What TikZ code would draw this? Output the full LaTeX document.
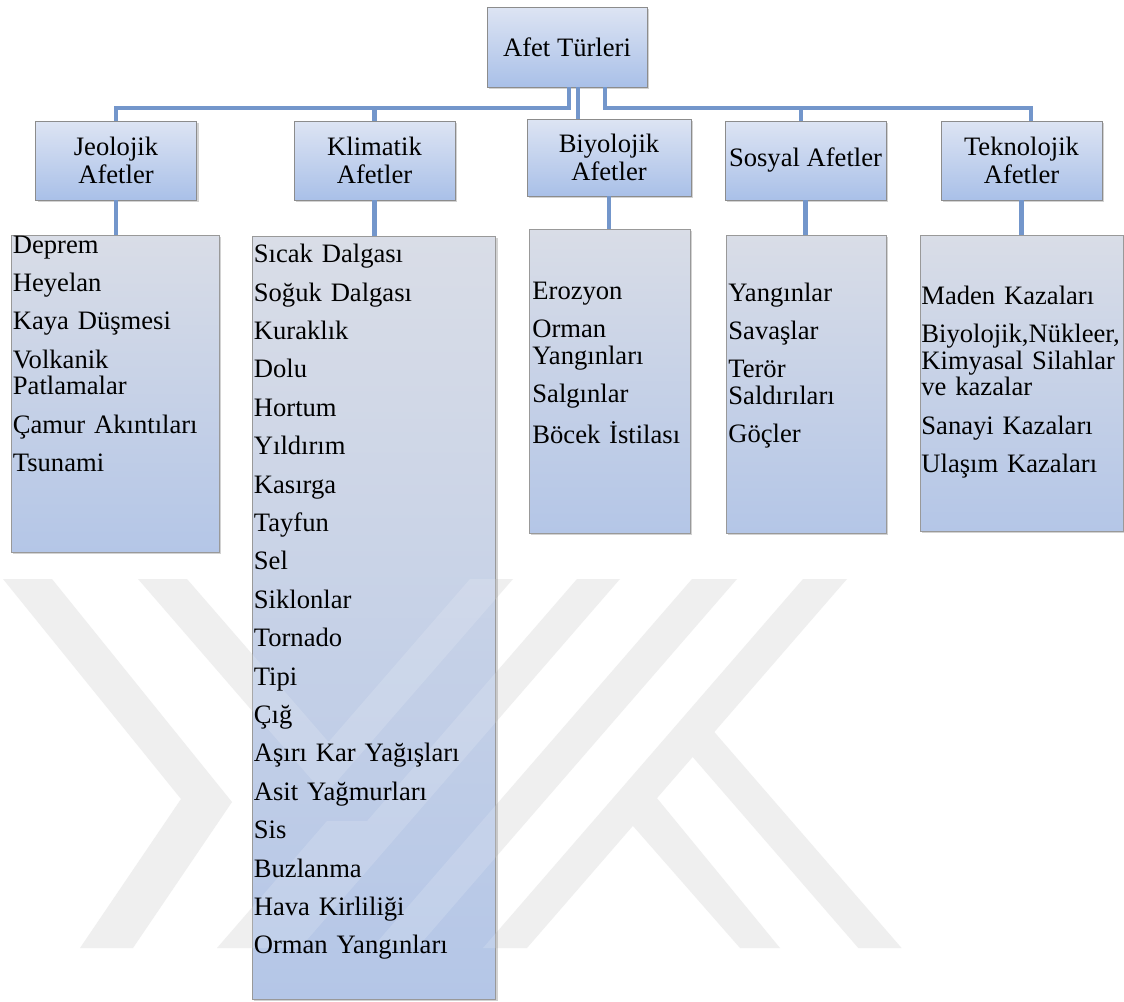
\documentclass[tikz,border=0pt]{standalone}
\usepackage{fontspec}
\setmainfont{Liberation Serif}
\usetikzlibrary{shadows}

\definecolor{linkblue}{HTML}{7396CB}
\definecolor{headtop}{HTML}{DDE4F3}
\definecolor{headbot}{HTML}{A9C0E8}
\definecolor{listtop}{HTML}{D9DDE7}
\definecolor{listbot}{HTML}{B4C6E7}
\definecolor{markgray}{HTML}{EFEFEF}

\newcommand{\itemgap}{5.85pt}
% watermark stripes
\newcommand{\yokmark}[1]{%
  \fill[#1] (3,579) -- (52,579) -- (232,802) -- (133,948) -- (80,948) -- (181,799) -- cycle
    (138,579) -- (187,579) -- (328.5,742) -- (470,579) -- (513,579) -- (325,795) -- cycle
    (327,821) -- (380,821) -- (270,948) -- (217,948) -- cycle
    (577,579) -- (620,579) -- (300,948) -- (257,948) -- cycle
    (692,579) -- (737,579) -- (417,948) -- (372,948) -- cycle
    (803,579) -- (847,579) -- (527,948) -- (483,948) -- cycle
    (703.9,720) -- (901.6,948) -- (858.3,948) -- (682.3,745) -- cycle
    (647,786) -- (780,948) -- (740,948) -- (622.5,814) -- cycle;}

\tikzset{
  headbox/.style={draw=black!45, top color=headtop, bottom color=headbot,
    drop shadow={shadow xshift=1.2pt, shadow yshift=-1.2pt, opacity=.35},
    align=center, inner sep=0pt, font=\fontsize{13.3}{14}\selectfont},
  listbox/.style={draw=black!40, top color=listtop, bottom color=listbot,
    drop shadow={shadow xshift=1.2pt, shadow yshift=-1.2pt, opacity=.35},
    inner sep=0pt},
  items/.style={anchor=base west, inner sep=0pt, text width=112pt, align=left},
  link/.style={draw=linkblue, line width=2.4pt},
}

\begin{document}
\begin{tikzpicture}[x=0.5pt, y=-0.5pt, font=\fontsize{13.3}{13.35}\selectfont]
\useasboundingbox (0,0) rectangle (1124,1001);
\fill[white] (0,0) rectangle (1124,1001);
\yokmark{markgray}

% top and second level
\node[headbox, minimum width=80pt, minimum height=40pt] (afet) at (567,47) {Afet Türleri};
\node[headbox, minimum width=80.5pt, minimum height=39.5pt] (jeo) at (116,160.5) {Jeolojik\\Afetler};
\node[headbox, minimum width=80.5pt, minimum height=39.5pt] (kli) at (374.5,160.5) {Klimatik\\Afetler};
\node[headbox, minimum width=82pt, minimum height=38.5pt] (bio) at (609,157.5) {Biyolojik\\Afetler};
\node[headbox, minimum width=80.5pt, minimum height=39.5pt] (sos) at (805.5,160.5) {Sosyal Afetler};
\node[headbox, minimum width=80.5pt, minimum height=39.5pt] (tek) at (1021.5,160.5) {Teknolojik\\Afetler};

% lists
\node[listbox, minimum width=104pt, minimum height=158.5pt] (jeoList) at (115,393.5) {};
\node[listbox, minimum width=121.75pt, minimum height=381.5pt] (kliList) at (373.75,617.5) {};
\node[listbox, minimum width=80.5pt, minimum height=152pt] (bioList) at (609.5,381) {};
\node[listbox, minimum width=80pt, minimum height=149pt] (sosList) at (806,384) {};
\node[listbox, minimum width=101.5pt, minimum height=148pt] (tekList) at (1021.5,383) {};

% watermark showing through the long list
\begin{scope}
  \clip (kliList.south west) rectangle (kliList.north east);
  \yokmark{white, opacity=.15}
\end{scope}

\node[items] (jeoItems) at (12.5,253) {Deprem\\[\itemgap]Heyelan\\[\itemgap]Kaya Düşmesi\\[\itemgap]Volkanik\\Patlamalar\\[\itemgap]Çamur Akıntıları\\[\itemgap]Tsunami};
\node[items] (kliItems) at (253.5,262.7) {Sıcak Dalgası\\[\itemgap]Soğuk Dalgası\\[\itemgap]Kuraklık\\[\itemgap]Dolu\\[\itemgap]Hortum\\[\itemgap]Yıldırım\\[\itemgap]Kasırga\\[\itemgap]Tayfun\\[\itemgap]Sel\\[\itemgap]Siklonlar\\[\itemgap]Tornado\\[\itemgap]Tipi\\[\itemgap]Çığ\\[\itemgap]Aşırı Kar Yağışları\\[\itemgap]Asit Yağmurları\\[\itemgap]Sis\\[\itemgap]Buzlanma\\[\itemgap]Hava Kirliliği\\[\itemgap]Orman Yangınları};
\node[items] (bioItems) at (532,299) {Erozyon\\[\itemgap]Orman\\Yangınları\\[\itemgap]Salgınlar\\[\itemgap]Böcek İstilası};
\node[items] (sosItems) at (728,301) {Yangınlar\\[\itemgap]Savaşlar\\[\itemgap]Terör\\Saldırıları\\[\itemgap]Göçler};
\node[items] (tekItems) at (921,304) {Maden Kazaları\\[\itemgap]Biyolojik,Nükleer,\\Kimyasal Silahlar\\ve kazalar\\[\itemgap]Sanayi Kazaları\\[\itemgap]Ulaşım Kazaları};

% connectors
\coordinate (bus) at (0,108);
\draw[link] ([xshift=1pt]afet.south) -- ([xshift=1pt]afet.south |- bus) -| (jeo.north);
\draw[link] ([xshift=1pt]afet.south) -- ([xshift=1pt]afet.south |- bus) -| (kli.north);
\draw[link] ([xshift=5.5pt]afet.south) -- ([xshift=5.5pt]afet.south |- bio.north);
\draw[link] ([xshift=19pt]afet.south) -- ([xshift=19pt]afet.south |- bus) -| ([xshift=-2.25pt]sos.north);
\draw[link] ([xshift=19pt]afet.south) -- ([xshift=19pt]afet.south |- bus) -| ([xshift=4.75pt]tek.north);

\draw[link] (jeo.south) -- (jeo.south |- jeoList.north);
\draw[link] (kli.south) -- (kli.south |- kliList.north);
\draw[link] (bio.south) -- (bio.south |- bioList.north);
\draw[link] (sos.south) -- (sos.south |- sosList.north);
\draw[link] (tek.south) -- (tek.south |- tekList.north);
\end{tikzpicture}
\end{document}
